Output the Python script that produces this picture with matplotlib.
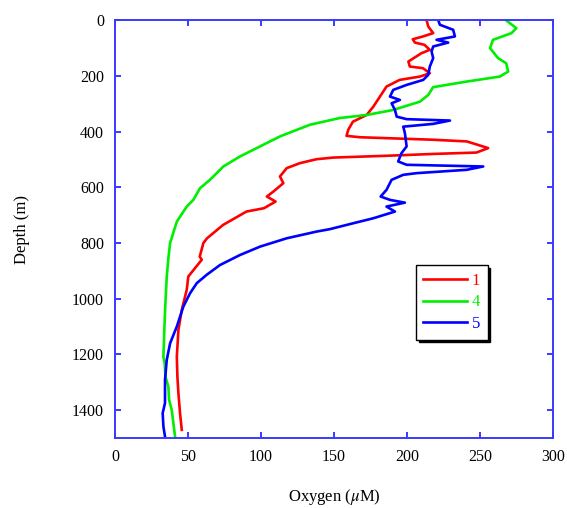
import matplotlib
matplotlib.use("Agg")
import matplotlib.pyplot as plt

# Station 1 (red)
depth1 = [0, 22, 46, 58, 68, 80, 88, 106, 118, 148, 166, 172, 190, 202, 214, 238, 274, 310, 340, 364,
          393, 415, 420, 429, 435, 459, 475, 480, 487, 493, 499, 513, 531, 561, 585, 615, 633, 651, 675,
          687, 735, 783, 800, 849, 860, 890, 920, 968, 1040, 1112, 1208, 1280, 1340, 1411, 1471]
oxy1 = [213.5, 214.6, 218, 211, 204, 205.5, 212, 215.7, 210, 201, 202, 211, 215.7, 209, 195, 186, 181.5,
        177, 172.4, 163, 159.8, 158.6, 167.8, 218, 241, 255.7, 247.7, 218, 183.8, 149.5, 138, 126.7,
        117.6, 113, 115.3, 108.5, 104, 110, 102, 90, 74, 63, 60.5, 58, 59.4, 54.8, 50.2, 49.1, 45.7,
        43.4, 42.3, 42.7, 43.4, 44.5, 45.7]

# Station 4 (green)
depth4 = [0, 28, 46, 70, 100, 136, 154, 184, 202, 220, 240, 268, 292, 322, 340, 351, 375, 417, 453, 489,
          525, 573, 603, 645, 669, 723, 800, 855, 920, 1046, 1208, 1232, 1280, 1316, 1363, 1400, 1495]
oxy4 = [268, 275, 271.7, 259, 257, 262.5, 268, 269.4, 263.7, 241, 218, 214.6, 209, 190.6, 172.4, 154,
        133.6, 113, 99.3, 85.6, 74.2, 65, 58.2, 53.6, 49.1, 42.3, 37.7, 36.5, 35.4, 34.2, 33.1, 34,
        34.5, 36.5, 37, 38.8, 41.1]

# Station 5 (blue)
depth5 = [0, 16, 34, 58, 70, 80, 94, 112, 136, 166, 196, 214, 232, 250, 274, 286, 298, 322, 346, 355,
          360, 372, 382, 405, 453, 477, 507, 519, 525, 537, 549, 555, 573, 609, 633, 645, 655, 669, 687,
          711, 729, 750, 759, 783, 813, 843, 879, 914, 944, 980, 1028, 1100, 1160, 1220, 1292, 1375,
          1411, 1459, 1495]
oxy5 = [221.5, 222.6, 231.7, 232.9, 220.3, 228.3, 218, 216.9, 218, 215.7, 214.6, 211.2, 199.8, 190.6,
        188.4, 195.2, 189.5, 191.8, 193, 199.8, 229.5, 218, 197.5, 198.6, 199.8, 196.3, 194, 199.8,
        252.3, 241, 206.6, 197.5, 189.5, 186, 182, 188.4, 198.6, 186, 191.8, 177, 163.2, 147.3, 138,
        117.6, 99.3, 85.6, 71.9, 62.8, 56, 51.4, 46.8, 42.3, 37.7, 35.4, 34.2, 34.2, 32.6, 33.1, 34.2]

labels = ["1", "4", "5"]
colors = ["#ff0000", "#00ee00", "#0000ff"]
xticks = [0, 50, 100, 150, 200, 250, 300]
yticks = [0, 200, 400, 600, 800, 1000, 1200, 1400]

plt.rcParams['font.family'] = ['Liberation Serif', 'DejaVu Serif']
plt.rcParams['mathtext.fontset'] = 'stix'

fig = plt.figure(figsize=(5.67, 5.08), dpi=100)
ax = fig.add_axes([0.203, 0.138, 0.772, 0.822])

for d, o, lab, c in zip([depth1, depth4, depth5], [oxy1, oxy4, oxy5], labels, colors):
    ax.plot(o, d, color=c, lw=1.9, label=lab)

ax.set_xlim(0, 300)
ax.set_ylim(1500, 0)
ax.set_xticks(xticks)
ax.set_yticks(yticks)
spine_color = "#3a3aff"
for s in ax.spines.values():
    s.set_color(spine_color)
    s.set_linewidth(1.4)
ax.tick_params(direction='in', length=4.5, width=1.4, color=spine_color, labelsize=11.5,
               top=True, right=True, labeltop=False, labelright=False)
ax.tick_params(axis='x', pad=8)
ax.tick_params(axis='y', pad=8)

ax.set_xlabel(r'Oxygen ($\mu$M)', fontsize=12, labelpad=16)
ax.set_ylabel('Depth (m)', fontsize=12, labelpad=30)

leg = ax.legend(loc='upper left', bbox_to_anchor=(0.687, 0.414), borderaxespad=0, frameon=True,
                fancybox=False, shadow={'color': 'black', 'alpha': 1}, edgecolor='black',
                handlelength=2.6, fontsize=12, borderpad=0.45, labelspacing=0.35, handletextpad=0.3)
leg.get_frame().set_linewidth(1.0)
for t, c in zip(leg.get_texts(), colors):
    t.set_color(c)

fig.savefig("out.png", dpi=100)
